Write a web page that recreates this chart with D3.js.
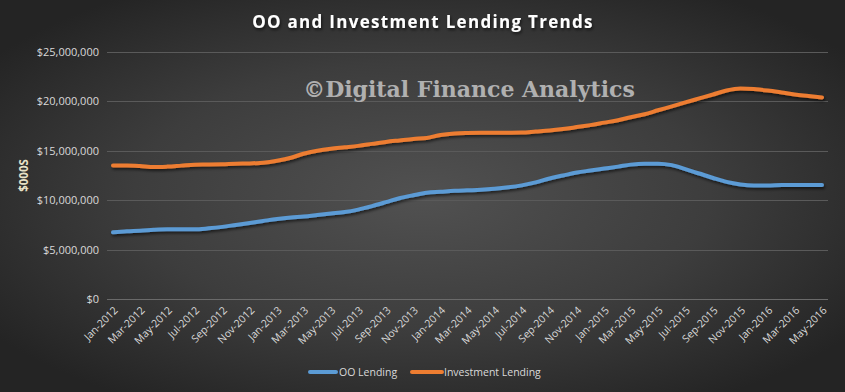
<!DOCTYPE html>
<html>
<head>
<meta charset="utf-8">
<script src="https://cdn.jsdelivr.net/npm/d3@7"></script>
<style>
  html, body { margin: 0; padding: 0; background: #2a2a2a; }
  svg { display: block; }
</style>
</head>
<body>
<div id="chart"></div>
<script>
'use strict';

// monthly, Jan-2012 .. May-2016 ($000s)
let months = d3.range(53).map(function(i) {
    return new Date(2012, i, 1);
});

let ooLending = [
    6.75, 6.85, 6.9, 7.0, 7.05, 7.05, 7.05, 7.15, 7.3, 7.5, 7.7, 7.9,
    8.1, 8.25, 8.35, 8.5, 8.65, 8.8, 9.05, 9.4, 9.8, 10.2, 10.5, 10.75,
    10.85, 10.95, 11.0, 11.05, 11.15, 11.3, 11.5, 11.8, 12.2, 12.5, 12.8, 13.0,
    13.2, 13.4, 13.6, 13.7, 13.7, 13.55, 13.15, 12.7, 12.25, 11.85, 11.6, 11.5,
    11.5, 11.55, 11.55, 11.55, 11.55
].map(function(v) { return v * 1e6; });

let investmentLending = [
    13.5, 13.5, 13.45, 13.35, 13.4, 13.5, 13.6, 13.62, 13.65, 13.7, 13.72, 13.8,
    14.0, 14.3, 14.7, 15.0, 15.2, 15.35, 15.5, 15.7, 15.9, 16.05, 16.2, 16.3,
    16.6, 16.75, 16.8, 16.82, 16.82, 16.83, 16.85, 16.95, 17.05, 17.2, 17.4, 17.6,
    17.85, 18.1, 18.4, 18.7, 19.1, 19.5, 19.9, 20.3, 20.7, 21.1, 21.3, 21.25,
    21.1, 20.9, 20.7, 20.55, 20.4
].map(function(v) { return v * 1e6; });

let yTicks = [0, 5e6, 10e6, 15e6, 20e6, 25e6];

let series = [
    {name: 'OO Lending', values: ooLending, color: '#5b9bd5'},
    {name: 'Investment Lending', values: investmentLending, color: '#ed7d31'}
];

let width = 845,
    height = 392;
let margin = {top: 52, right: 23, bottom: 93, left: 113};

let svg = d3.select('#chart')
    .append('svg')
    .attr('width', width)
    .attr('height', height);

// background
let defs = svg.append('defs');
let grad = defs.append('radialGradient')
    .attr('id', 'bg')
    .attr('cx', '50%').attr('cy', '50%')
    .attr('r', '62%');
grad.append('stop').attr('offset', '0%').attr('stop-color', '#515151');
grad.append('stop').attr('offset', '55%').attr('stop-color', '#3d3d3d');
grad.append('stop').attr('offset', '100%').attr('stop-color', '#242424');

let shadow = defs.append('filter')
    .attr('id', 'shadow')
    .attr('x', '-5%').attr('y', '-20%')
    .attr('width', '110%').attr('height', '140%');
shadow.append('feDropShadow')
    .attr('dx', 1).attr('dy', 2)
    .attr('stdDeviation', 1.5)
    .attr('flood-color', '#000')
    .attr('flood-opacity', 0.6);

svg.append('rect')
    .attr('width', width)
    .attr('height', height)
    .attr('fill', 'url(#bg)');

let x = d3.scaleTime()
    .domain(d3.extent(months))
    .range([margin.left, width - margin.right]);

let y = d3.scaleLinear()
    .domain([0, 25e6])
    .range([height - margin.bottom, margin.top]);

let fmt = function(d) {
    return '$' + d3.format(',')(d);
};

// gridlines
svg.append('g')
    .selectAll('line')
    .data(yTicks)
    .enter().append('line')
    .attr('x1', margin.left - 6)
    .attr('x2', width - margin.right + 6)
    .attr('y1', function(d) { return Math.round(y(d)) + 0.5; })
    .attr('y2', function(d) { return Math.round(y(d)) + 0.5; })
    .attr('stroke', function(d) { return d === 0 ? '#6a6a6a' : '#5a5a5a'; })
    .attr('stroke-width', 1);

// y axis labels
let yAxis = d3.axisLeft(y)
    .tickValues(yTicks)
    .tickFormat(fmt)
    .tickSize(0)
    .tickPadding(14);

let yG = svg.append('g')
    .attr('transform', 'translate(' + margin.left + ',0)')
    .call(yAxis);
yG.select('.domain').remove();
yG.selectAll('text')
    .attr('fill', '#d9d9d9')
    .style('font-family', 'Open Sans, sans-serif')
    .style('font-size', '11px');

// x axis labels, every second month
let xTicks = months.filter(function(d, i) { return i % 2 === 0; });
let xAxis = d3.axisBottom(x)
    .tickValues(xTicks)
    .tickFormat(d3.timeFormat('%b-%Y'))
    .tickSize(0)
    .tickPadding(0);

let xG = svg.append('g')
    .attr('transform', 'translate(0,' + (height - margin.bottom) + ')')
    .call(xAxis);
xG.select('.domain').remove();
xG.selectAll('text')
    .attr('fill', '#d9d9d9')
    .style('font-family', 'Open Sans, sans-serif')
    .style('font-size', '10.5px')
    .style('text-anchor', 'end')
    .attr('dy', 0)
    .attr('transform', 'translate(5,12) rotate(-45)');

// y axis title
svg.append('text')
    .attr('transform', 'translate(28,' + y(12.5e6) + ') rotate(-90)')
    .attr('text-anchor', 'middle')
    .attr('fill', '#e8e2c8')
    .style('font-family', 'Open Sans, sans-serif')
    .style('font-weight', 'bold')
    .style('font-size', '11.5px')
    .text('$000S');

// title
svg.append('text')
    .attr('x', 423)
    .attr('y', 28)
    .attr('text-anchor', 'middle')
    .attr('fill', '#ffffff')
    .attr('filter', 'url(#shadow)')
    .style('font-family', 'Open Sans, sans-serif')
    .style('font-weight', 'bold')
    .style('font-size', '17px')
    .style('letter-spacing', '1.3px')
    .text('OO and Investment Lending Trends');

// watermark
svg.append('text')
    .attr('x', 469)
    .attr('y', 97)
    .attr('text-anchor', 'middle')
    .attr('fill', '#b0b0b0')
    .style('font-family', 'DejaVu Serif, serif')
    .style('font-weight', 'bold')
    .style('font-size', '22px')
    .text('\u00A9Digital Finance Analytics');

// lines
let line = d3.line()
    .x(function(d, i) { return x(months[i]); })
    .y(function(d) { return y(d); })
    .curve(d3.curveMonotoneX);

svg.append('g')
    .selectAll('path')
    .data(series)
    .enter().append('path')
    .attr('d', function(d) { return line(d.values); })
    .attr('fill', 'none')
    .attr('stroke', function(d) { return d.color; })
    .attr('stroke-width', 4)
    .attr('stroke-linecap', 'round')
    .attr('stroke-linejoin', 'round')
    .attr('filter', 'url(#shadow)');

// legend
let legendPos = [310, 412];
let legend = svg.append('g')
    .selectAll('g')
    .data(series)
    .enter().append('g')
    .attr('transform', function(d, i) {
        return 'translate(' + legendPos[i] + ',372)';
    });
legend.append('line')
    .attr('x1', 0)
    .attr('x2', function(d, i) { return i === 0 ? 26 : 30; })
    .attr('y1', 0)
    .attr('y2', 0)
    .attr('stroke', function(d) { return d.color; })
    .attr('stroke-width', 4)
    .attr('stroke-linecap', 'round');
legend.append('text')
    .attr('x', function(d, i) { return i === 0 ? 29 : 32; })
    .attr('y', 4)
    .attr('fill', '#d9d9d9')
    .style('font-family', 'Open Sans, sans-serif')
    .style('font-size', '10.5px')
    .text(function(d) { return d.name; });
</script>
</body>
</html>
